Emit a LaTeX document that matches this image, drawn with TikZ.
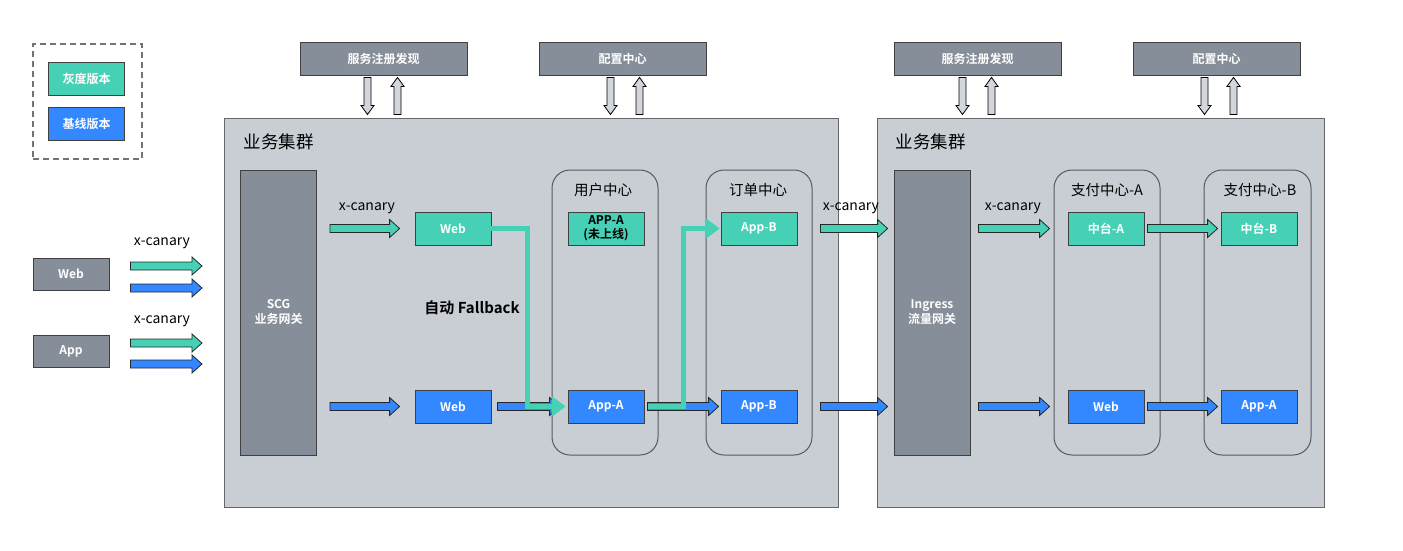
\documentclass[tikz,border=0pt]{standalone}
\usepackage{fontspec}
\setmainfont{Noto Sans CJK SC}[BoldFont={Noto Sans CJK SC Bold}]
\usetikzlibrary{arrows.meta, calc}
\definecolor{canary}{HTML}{46D0B5}
\definecolor{base}{HTML}{3388FF}
\definecolor{slate}{HTML}{868E99}
\definecolor{zonebg}{HTML}{C9CDD4}
\definecolor{hollow}{HTML}{D3D6DB}

% fat arrow, x from #2 and #3, y taken from #3
\newcommand{\fatarrow}[3]{%
  \draw[line width=0.8pt, draw=black!85, fill=#1, line join=miter] let \p1=(#2), \p2=(#3) in
    (\x1,\y2+4pt) -- (\x2-10pt,\y2+4pt) -- (\x2-10pt,\y2+9pt) -- (\x2,\y2)
    -- (\x2-10pt,\y2-9pt) -- (\x2-10pt,\y2-4pt) -- (\x1,\y2-4pt) -- cycle;}
% hollow sync arrows, x from #1, y from #1 and #2
\newcommand{\syncdown}[2]{%
  \draw[line width=0.8pt, fill=hollow] let \p1=(#1), \p2=(#2) in
    (\x1-3.5pt,\y1) -- (\x1-3.5pt,\y2+9pt) -- (\x1-6.5pt,\y2+9pt) -- (\x1,\y2)
    -- (\x1+6.5pt,\y2+9pt) -- (\x1+3.5pt,\y2+9pt) -- (\x1+3.5pt,\y1) -- cycle;}
\newcommand{\syncup}[2]{%
  \draw[line width=0.8pt, fill=hollow] let \p1=(#1), \p2=(#2) in
    (\x1-3.5pt,\y1) -- (\x1-3.5pt,\y2-9pt) -- (\x1-6.5pt,\y2-9pt) -- (\x1,\y2)
    -- (\x1+6.5pt,\y2-9pt) -- (\x1+3.5pt,\y2-9pt) -- (\x1+3.5pt,\y1) -- cycle;}

\begin{document}
\begin{tikzpicture}[
  x=1pt, y=-1pt,
  box/.style={draw=black!75, line width=0.8pt, minimum width=76pt, minimum height=33pt,
              inner sep=0pt, align=center, text=white,
              font=\fontsize{12}{14}\selectfont\bfseries},
  gwbox/.style={box, fill=slate},
  canbox/.style={box, fill=canary},
  basebox/.style={box, fill=base},
  topbox/.style={box, fill=slate, minimum width=167pt, font=\fontsize{12}{14}\selectfont\bfseries},
  gate/.style={gwbox, minimum height=285pt, font=\fontsize{12}{15}\selectfont\bfseries},
  zone/.style={draw=black!60, fill=zonebg, line width=1pt, minimum height=389pt},
  svc/.style={draw=black!65, line width=1pt, rounded corners=18pt,
              minimum width=106pt, minimum height=285pt},
  title/.style={font=\fontsize{17.5}{19}\selectfont},
  svctitle/.style={font=\fontsize{14.5}{16}\selectfont},
  lbl/.style={font=\fontsize{14}{16}\selectfont},
  fallback/.style={canary, line width=5pt, -{Triangle[length=14pt, width=20pt]}}
]
\useasboundingbox (0,0) rectangle (1403,550);

% --- legend ---
\node[draw=black!55, dashed, dash pattern=on 6pt off 4pt, line width=1.3pt,
      minimum width=109pt, minimum height=115pt] (legend) at (87.5,101.5) {};
\node[canbox] (leggray) at (86.5,78.5) {灰度版本};
\node[basebox] (legbase) at (86.5,124) {基线版本};

% --- clients ---
\node[gwbox, minimum height=32pt] (webin) at (71,274) {Web};
\node[gwbox, minimum height=32pt] (appin) at (71,351) {App};
\coordinate (webtip1) at (202,266);
\coordinate (webtip2) at (202,288);
\coordinate (apptip1) at (202,343);
\coordinate (apptip2) at (202,364);
\node[lbl] at (162,243) {x-canary};
\node[lbl] at (162,321) {x-canary};
\fatarrow{canary}{[xshift=21pt]webin.east}{webtip1}
\fatarrow{base}{[xshift=21pt]webin.east}{webtip2}
\fatarrow{canary}{[xshift=21pt]appin.east}{apptip1}
\fatarrow{base}{[xshift=21pt]appin.east}{apptip2}

% --- registry / config ---
\node[topbox] (reg1) at (383.5,58.5) {服务注册发现};
\node[topbox] (cfg1) at (622.5,58.5) {配置中心};
\node[topbox] (reg2) at (977.5,58.5) {服务注册发现};
\node[topbox] (cfg2) at (1216.5,58.5) {配置中心};

% --- clusters ---
\node[zone, minimum width=614pt] (bizl) at (531,312.5) {};
\node[zone, minimum width=447pt] (bizr) at (1100.5,312.5) {};
\node[title, anchor=west] at (240,142) {业务集群};
\node[title, anchor=west] at (892,142) {业务集群};

\syncdown{[xshift=-16pt,yshift=-2pt]reg1.south}{[yshift=3pt]bizl.north}
\syncup{[xshift=14pt,yshift=3pt]bizl.north -| reg1.south}{[yshift=-2pt]reg1.south}
\syncdown{[xshift=-12pt,yshift=-2pt]cfg1.south}{[yshift=3pt]bizl.north}
\syncup{[xshift=17pt,yshift=3pt]bizl.north -| cfg1.south}{[yshift=-2pt]cfg1.south}
\syncdown{[xshift=-15pt,yshift=-2pt]reg2.south}{[yshift=3pt]bizr.north}
\syncup{[xshift=14pt,yshift=3pt]bizr.north -| reg2.south}{[yshift=-2pt]reg2.south}
\syncdown{[xshift=-12pt,yshift=-2pt]cfg2.south}{[yshift=3pt]bizr.north}
\syncup{[xshift=17pt,yshift=3pt]bizr.north -| cfg2.south}{[yshift=-2pt]cfg2.south}

% --- gateways ---
\node[gate] (scg) at (278.5,312.5) {SCG\\业务网关};
\node[gate] (ingress) at (932,312.5) {Ingress\\流量网关};

% --- services ---
\node[svc] (user) at (605,312.5) {};
\node[svc] (order) at (759,312.5) {};
\node[svc] (paya) at (1107,312.5) {};
\node[svc, minimum width=107pt] (payb) at (1257.5,312.5) {};
\node[svctitle] at (603,190) {用户中心};
\node[svctitle] at (758,190) {订单中心};
\node[svctitle] at (1107,190) {支付中心-A};
\node[svctitle] at (1260,190) {支付中心-B};

% --- left cluster nodes ---
\node[canbox] (webg) at (453,228.5) {Web};
\node[basebox] (webb) at (453,406.5) {Web};
\node[canbox, text=black] (appag) at (606,228.5) {APP-A\\(未上线)};
\node[basebox] (appab) at (606,406.5) {App-A};
\node[canbox] (appbg) at (759,228.5) {App-B};
\node[basebox] (appbb) at (759,406.5) {App-B};

% --- right cluster nodes ---
\node[canbox] (zta) at (1106,228.5) {中台-A};
\node[basebox] (webr) at (1106,406.5) {Web};
\node[canbox] (ztb) at (1259,228.5) {中台-B};
\node[basebox] (appar) at (1259,406.5) {App-A};

% --- traffic ---
\node[lbl] at (367,208) {x-canary};
\node[lbl] at (851,208) {x-canary};
\node[lbl] at (1013,208) {x-canary};
\fatarrow{canary}{[xshift=13pt]scg.east}{[xshift=-15pt]webg.west}
\fatarrow{base}{[xshift=13pt]scg.east}{[xshift=-15pt]webb.west}
\fatarrow{base}{[xshift=6pt]webb.east}{[xshift=-8pt]appab.west}
\fatarrow{base}{[xshift=3pt]appab.east}{[xshift=-2pt]appbb.west}
\fatarrow{canary}{[xshift=23pt]appbg.east}{$(ingress.west |- appbg.east)+(-6pt,0)$}
\fatarrow{base}{[xshift=23pt]appbb.east}{$(ingress.west |- appbb.east)+(-6pt,0)$}
\fatarrow{canary}{[xshift=8pt]ingress.east}{[xshift=-18pt]zta.west}
\fatarrow{base}{[xshift=8pt]ingress.east}{[xshift=-18pt]webr.west}
\fatarrow{canary}{[xshift=3pt]zta.east}{[xshift=-3pt]ztb.west}
\fatarrow{base}{[xshift=3pt]webr.east}{[xshift=-3pt]appar.west}

% --- fallback ---
\draw[fallback] (webg.east) -- ++(36,0) |- ([xshift=-2pt]appab.west);
\draw[fallback] ([xshift=4pt]appab.east) -- ++(35,0) |- ([xshift=-1pt]appbg.west);
\node[font=\fontsize{15}{17}\selectfont\bfseries] at (472,308) {自动 Fallback};
\end{tikzpicture}
\end{document}
